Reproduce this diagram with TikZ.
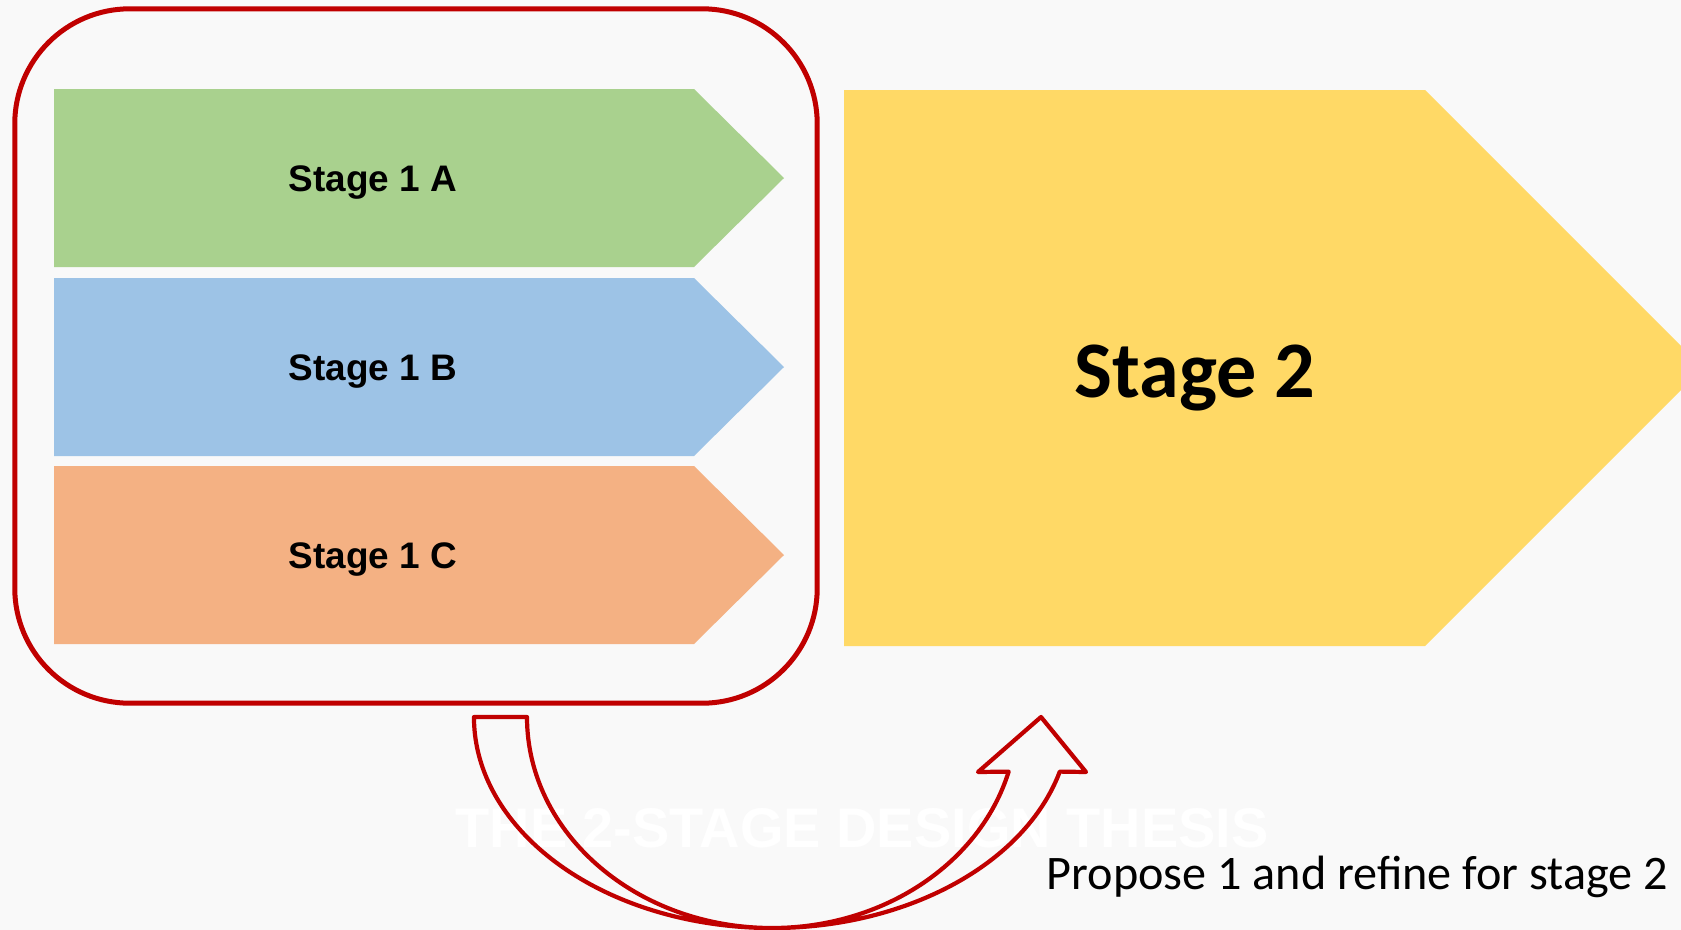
\documentclass[tikz,border=0pt]{standalone}
\usepackage{fontspec}
\newfontfamily\arialfont{Liberation Sans}
\newfontfamily\calibrifont{Carlito}

\definecolor{pagebg}{HTML}{F9F9F9}
\definecolor{stageA}{HTML}{A9D18E}
\definecolor{stageB}{HTML}{9DC3E6}
\definecolor{stageC}{HTML}{F4B183}
\definecolor{stageTwo}{HTML}{FFD966}
\definecolor{frameRed}{HTML}{C00000}

\begin{document}
\begin{tikzpicture}[
            x=0.01cm, y=-0.01cm,
            every node/.style={
                inner sep=0pt,
                anchor=base
            },
            stagelabel/.style={font=\arialfont\bfseries\fontsize{10.5}{12}\selectfont},
            bigstage/.style={font=\calibrifont\bfseries\fontsize{22.8}{26}\selectfont},
            note/.style={font=\calibrifont\fontsize{13.7}{16}\selectfont, anchor=base west},
            watermark/.style={font=\arialfont\bfseries\fontsize{15.9}{18}\selectfont, text=white},
            turnarrow/.style={draw=frameRed, line width=0.042cm, line join=round}
        ]

        % Fondo
        \fill[pagebg] (0,0) rectangle (1681,930);
        \clip (0,0) rectangle (1681,930);

        % Etapa 1
        \foreach \name/\col/\top in {A/stageA/89, B/stageB/278, C/stageC/466}{
            \fill[\col] (54,\top) -- (694,\top) -- (784,\top+89) -- (694,\top+178)
                -- (54,\top+178) -- cycle;
            \node[stagelabel] (s1\name) at (373,\top+102) {Stage 1 \name};
        }

        % Etapa 2
        \fill[stageTwo] (844,90) -- (1425,90) -- (1703,368) -- (1425,646) -- (844,646) -- cycle;
        \node[bigstage] (s2) at (1195,397) {Stage 2};

        % Marco
        \node[draw=frameRed, line width=0.05cm, rounded corners=1.15cm,
              minimum width=8.02cm, minimum height=6.94cm, anchor=center] (group) at (416,356) {};

        % Texto de fondo
        \node[watermark] (title) at (862,847) {THE 2-STAGE DESIGN THESIS};

        % Flecha curva
        \draw[turnarrow] (474,717) -- (527,717)
            arc[start angle=180, end angle=15, x radius=245, y radius=211]
            -- (978,772) -- (1041,717) -- (1086,772) -- (1059.8,771.6)
            arc[start angle=15, end angle=180, x radius=298, y radius=211]
            -- cycle;

        \node[note] (refine) at (1046,889) {Propose 1 and refine for stage 2};

        \end{tikzpicture}
\end{document}
